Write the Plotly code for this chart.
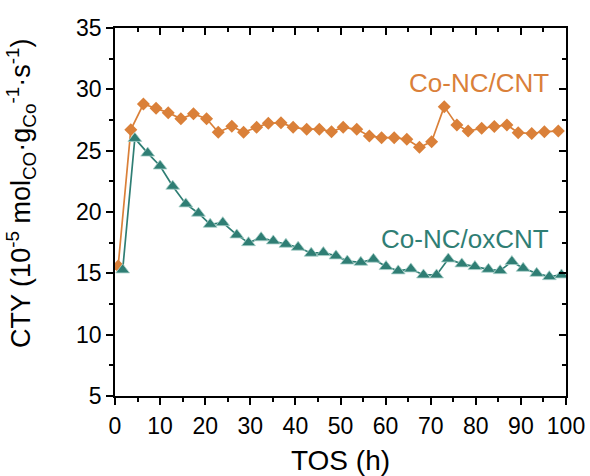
import plotly.graph_objects as go

# Time on stream (h) and CO turnover yield (10^-5 mol_CO g_Co^-1 s^-1)
tos_cnt = [0.7, 3.5, 6.3, 9.1, 11.8, 14.6, 17.4, 20.3, 22.9, 25.9, 28.5, 31.4,
           34.0, 36.8, 39.5, 42.5, 45.3, 48.0, 50.6, 53.6, 56.4, 59.1, 61.9, 64.7,
           67.5, 70.2, 73.0, 75.8, 78.3, 81.3, 84.1, 86.9, 89.4, 92.4, 95.2, 98.3]
cty_cnt = [15.6, 26.7, 28.8, 28.45, 28.1, 27.6, 28.0, 27.6, 26.5, 27.0, 26.5, 26.9,
           27.23, 27.28, 26.9, 26.75, 26.75, 26.55, 26.9, 26.74, 26.2, 26.06, 26.06, 25.93,
           25.28, 25.73, 28.59, 27.1, 26.6, 26.83, 26.96, 27.1, 26.47, 26.4, 26.55, 26.6]

tos_ox = [1.7, 4.4, 7.25, 10.0, 12.8, 15.7, 18.5, 21.1, 23.9, 27.0, 29.6, 32.4,
          35.1, 37.9, 40.6, 43.5, 46.2, 49.0, 51.5, 54.5, 57.3, 60.1, 62.8, 65.6,
          68.4, 71.3, 73.9, 76.9, 79.8, 82.8, 85.4, 88.0, 90.5, 93.5, 96.3, 99.0]
cty_ox = [15.28, 26.0, 24.8, 23.75, 22.1, 20.66, 19.9, 19.0, 19.13, 18.13, 17.5, 17.9,
          17.64, 17.37, 17.13, 16.64, 16.69, 16.42, 16.0, 15.9, 16.15, 15.55, 15.2, 15.36,
          14.87, 14.87, 16.17, 15.77, 15.55, 15.33, 15.22, 15.96, 15.41, 15.0, 14.73, 14.87]

series_names = ["Co-NC/CNT", "Co-NC/oxCNT"]

x_range = [0, 100]
y_range = [5, 35]
x_ticks = list(range(0, 101, 10))
y_ticks = list(range(5, 36, 5))

ORANGE = "#DA8039"
TEAL = "#2F7E74"
FONT = "Liberation Sans, Arial, Helvetica, sans-serif"

fig = go.Figure()
fig.add_trace(go.Scatter(
    x=tos_cnt, y=cty_cnt, mode="lines+markers", name=series_names[0],
    line=dict(color=ORANGE, width=1.7),
    marker=dict(symbol="diamond", size=10, color=ORANGE),
    showlegend=False,
))
fig.add_trace(go.Scatter(
    x=tos_ox, y=cty_ox, mode="lines+markers", name=series_names[1],
    line=dict(color=TEAL, width=1.7),
    marker=dict(symbol="triangle-up", size=12, color=TEAL,
                line=dict(color="#a9d0ca", width=0.8)),
    showlegend=False,
))
# transparent copy that carries the mirrored top / right axes
fig.add_trace(go.Scatter(
    x=tos_cnt, y=cty_cnt, xaxis="x2", yaxis="y2", mode="lines",
    opacity=0, hoverinfo="skip", showlegend=False,
))

axis_common = dict(showline=True, linecolor="black", linewidth=1.5, automargin=False,
                   showgrid=False, zeroline=False, tickcolor="black", tickwidth=1.5)

fig.update_layout(
    width=590, height=476,
    margin=dict(l=115, r=24, t=28, b=80),
    paper_bgcolor="white", plot_bgcolor="white",
    font=dict(family=FONT, color="black"),
    xaxis=dict(
        **axis_common, range=x_range, tickvals=x_ticks, ticks="outside", ticklen=7,
        minor=dict(ticks="outside", ticklen=4, dtick=5, tick0=0,
                   tickcolor="black", tickwidth=1.5),
        tickfont=dict(size=23), ticklabelstandoff=2,
        title=dict(text="TOS (h)", font=dict(size=28), standoff=14),
    ),
    xaxis2=dict(
        **axis_common, range=x_range, overlaying="x", side="top", anchor="y",
        tickvals=x_ticks, ticks="inside", ticklen=7, showticklabels=False,
        minor=dict(ticks="inside", ticklen=4, dtick=5, tick0=0,
                   tickcolor="black", tickwidth=1.5),
    ),
    yaxis=dict(
        **axis_common, range=y_range, tickvals=y_ticks, ticks="outside", ticklen=7,
        minor=dict(ticks="outside", ticklen=4, dtick=2.5, tick0=0,
                   tickcolor="black", tickwidth=1.5),
        tickfont=dict(size=23),
    ),
    yaxis2=dict(
        **axis_common, range=y_range, overlaying="y", side="right", anchor="x",
        tickvals=y_ticks, ticks="inside", ticklen=7, showticklabels=False,
        minor=dict(ticks="inside", ticklen=4, dtick=2.5, tick0=0,
                   tickcolor="black", tickwidth=1.5),
    ),
    annotations=[
        dict(text="CTY (10<sup>-5</sup> mol<sub>CO</sub>·g<sub>Co</sub><sup>-1</sup>·s<sup>-1</sup>)",
             xref="paper", yref="paper", x=-0.21, y=0.55, textangle=-90,
             xanchor="center", yanchor="middle", showarrow=False,
             font=dict(size=27)),
        dict(text=series_names[0], x=80.7, y=30.5, xanchor="center", yanchor="middle",
             showarrow=False, font=dict(size=26, color=ORANGE)),
        dict(text=series_names[1], x=77.6, y=17.8, xanchor="center", yanchor="middle",
             showarrow=False, font=dict(size=26, color=TEAL)),
    ],
)

fig.write_html("out.html")
